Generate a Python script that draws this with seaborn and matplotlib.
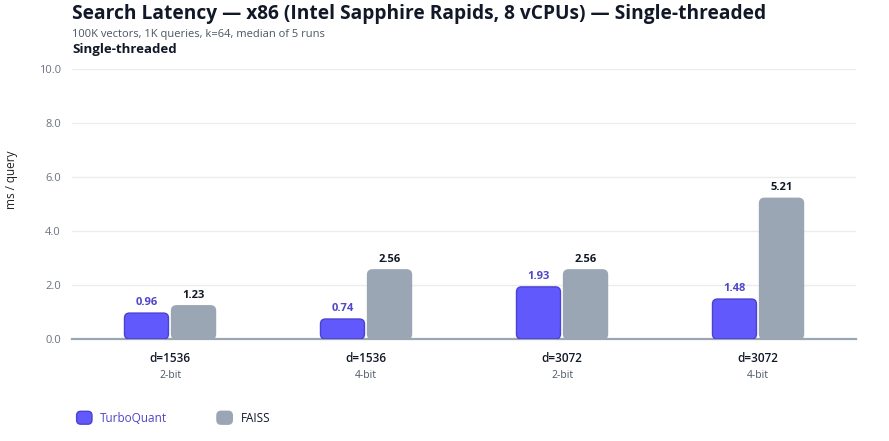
import matplotlib
matplotlib.use("Agg")
import matplotlib.pyplot as plt
from matplotlib.patches import FancyBboxPatch, Patch
from matplotlib.legend_handler import HandlerPatch
import seaborn as sns
import pandas as pd

categories = ["d=1536\n2-bit", "d=1536\n4-bit", "d=3072\n2-bit", "d=3072\n4-bit"]
dims = ["d=1536", "d=1536", "d=3072", "d=3072"]
bits = ["2-bit", "4-bit", "2-bit", "4-bit"]
turboquant = [0.96, 0.74, 1.93, 1.48]
faiss = [1.23, 2.56, 2.56, 5.21]
series = ["TurboQuant", "FAISS"]
yticks = [0.0, 2.0, 4.0, 6.0, 8.0, 10.0]

colors = {"TurboQuant": "#6159fb", "FAISS": "#9aa6b4"}
edges = {"TurboQuant": "#4a42d0", "FAISS": "#9aa6b4"}
label_colors = {"TurboQuant": "#4f46c8", "FAISS": "#111827"}

df = pd.DataFrame({
    "cat": categories * 2,
    "series": ["TurboQuant"] * 4 + ["FAISS"] * 4,
    "value": turboquant + faiss,
})

sns.set_theme(style="white")
plt.rcParams["font.family"] = ["Open Sans", "DejaVu Sans"]

W, H = 889, 441
fig = plt.figure(figsize=(W / 100, H / 100), dpi=100)
ax = fig.add_axes([72 / W, 1 - 339 / H, (856 - 72) / W, (339 - 69) / H])

sns.barplot(data=df, x="cat", y="value", hue="series", hue_order=series,
            order=categories, palette=colors, width=0.48, gap=0.065,
            ax=ax, legend=False, saturation=1)

ax.set_xlim(-0.5, 3.5)
ax.set_ylim(0, 10)

# rounded bars
px_x = (856 - 72) / 4.0
px_y = (339 - 69) / 10.0
aspect = px_x / px_y
patches = list(ax.patches)
for i, p in enumerate(patches):
    s = series[i // 4]
    x, y0, w, h = p.get_x(), p.get_y(), p.get_width(), p.get_height()
    p.remove()
    r = 5 / px_x
    fb = FancyBboxPatch((x, y0), w, h, boxstyle=f"round,pad=0,rounding_size={r}",
                        mutation_aspect=aspect, facecolor=colors[s],
                        edgecolor=edges[s], linewidth=1.0, zorder=3)
    ax.add_patch(fb)
    ax.annotate(f"{h:.2f}", (x + w / 2, y0 + h), xytext=(0, 3.5), textcoords="offset points",
                ha="center", va="bottom", fontsize=8, fontweight="bold",
                color=label_colors[s])

ax.set_yticks(yticks)
ax.set_yticklabels([f"{v:.1f}" for v in yticks], fontsize=8, color="#6b7280")
ax.yaxis.grid(True, color="#ececec", linewidth=1)
ax.set_axisbelow(True)
for sp in ["top", "right", "left"]:
    ax.spines[sp].set_visible(False)
ax.spines["bottom"].set_color("#9aa6b4")
ax.spines["bottom"].set_linewidth(1.6)
ax.tick_params(axis="y", length=0, pad=8)
ax.tick_params(axis="x", length=0)
ax.set_xticks(range(4))
ax.set_xticklabels([""] * 4)
ax.set_xlabel("")
ax.set_ylabel("")
fig.text(12 / W, 1 - 180 / H, "ms / query", rotation=90, fontsize=8.5,
         color="#222222", ha="center", va="center")

for i in range(4):
    ax.annotate(dims[i], (i, 0), xytext=(0, -9.5), textcoords="offset points",
                ha="center", va="top", fontsize=8.5, fontweight="semibold", color="#111827")
    ax.annotate(bits[i], (i, 0), xytext=(0, -22.5), textcoords="offset points",
                ha="center", va="top", fontsize=7.5, color="#4b5563")

fig.text(72 / W, 1 - 14 / H, "Search Latency — x86 (Intel Sapphire Rapids, 8 vCPUs) — Single-threaded",
         fontsize=13.8, fontweight="bold", color="#111827", ha="left", va="center")
fig.text(72 / W, 1 - 35 / H, "100K vectors, 1K queries, k=64, median of 5 runs",
         fontsize=8, color="#4b5563", ha="left", va="center")
fig.text(72 / W, 1 - 50 / H, "Single-threaded",
         fontsize=9.5, fontweight="bold", color="#111827", ha="left", va="center")


class RoundHandler(HandlerPatch):
    def create_artists(self, legend, orig_handle, xdescent, ydescent, width, height,
                       fontsize, trans):
        p = FancyBboxPatch((-xdescent, -ydescent), width, height,
                           boxstyle="round,pad=0,rounding_size=3",
                           facecolor=orig_handle.get_facecolor(),
                           edgecolor=orig_handle.get_edgecolor(), linewidth=1.0,
                           transform=trans)
        return [p]


handles = [Patch(facecolor=colors[s], edgecolor=edges[s], label=s) for s in series]
leg = fig.legend(handles=handles, loc="center left", bbox_to_anchor=(66 / W, 1 - 418 / H),
                 ncol=2, frameon=False, handlelength=1.3, handleheight=1.3,
                 columnspacing=4.2, handletextpad=0.7, fontsize=8.5,
                 handler_map={Patch: RoundHandler()})
for t, s in zip(leg.get_texts(), series):
    t.set_color(label_colors[s])
    t.set_fontweight("medium")

fig.savefig("out.png", dpi=100)
